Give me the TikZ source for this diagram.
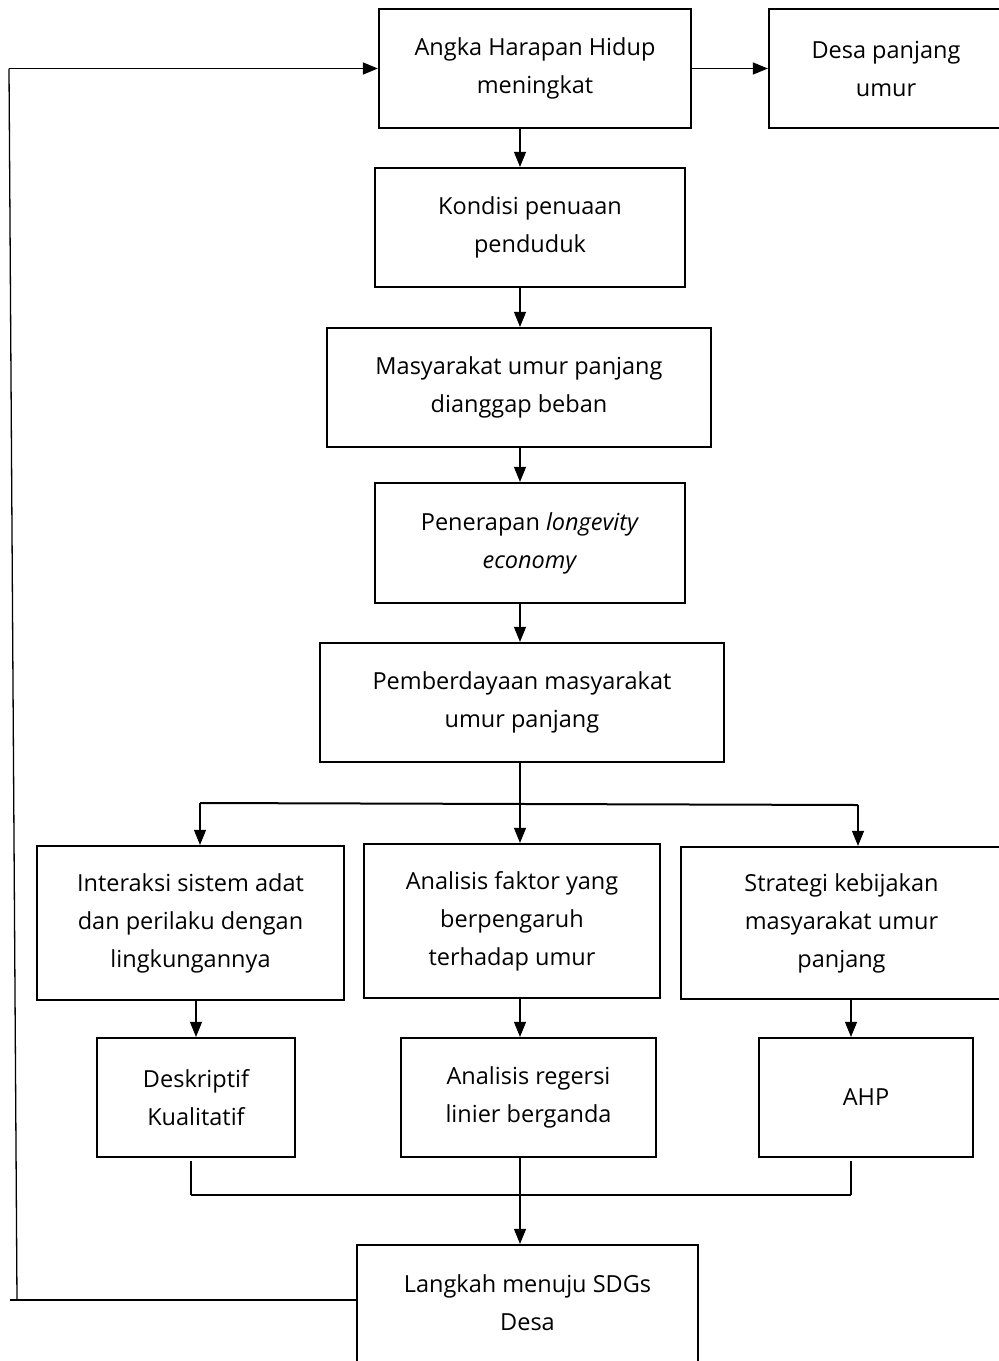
\documentclass[tikz,border=0pt]{standalone}
\usepackage{fontspec}
\setmainfont{Open Sans}
\usetikzlibrary{arrows.meta}

\begin{document}
\begin{tikzpicture}[x=1pt,y=-1pt,
  box/.style={draw, line width=2.2pt, align=center, inner sep=0pt,
    font=\fontsize{23.5}{38}\selectfont},
  arr/.style={line width=1.1pt, -{Triangle[length=15pt,width=12pt]}},
  bar/.style={line width=2pt}]
\clip (0,0) rectangle (999,1361);
\fill[white] (0,0) rectangle (999,1361);

\node[box, minimum width=312pt, minimum height=119pt] (hidup) at (535,68.5) {Angka Harapan Hidup\\meningkat};
\node[box, minimum width=234pt, minimum height=119pt] (desa) at (886,68.5) {Desa panjang\\umur};
\node[box, minimum width=310pt, minimum height=119pt] (penuaan) at (530,227.5) {Kondisi penuaan\\penduduk};
\node[box, minimum width=384pt, minimum height=119pt] (beban) at (519,387.5) {Masyarakat umur panjang\\dianggap beban};
\node[box, minimum width=310pt, minimum height=120pt] (longev) at (530,543) {Penerapan \textit{longevity}\\\textit{economy}};
\node[box, minimum width=404pt, minimum height=119pt] (berdaya) at (522,702.5) {Pemberdayaan masyarakat\\umur panjang};

\node[box, minimum width=307pt, minimum height=154pt] (adat) at (190.5,923) {Interaksi sistem adat\\dan perilaku dengan\\lingkungannya};
\node[box, minimum width=296pt, minimum height=154pt] (faktor) at (512,921) {Analisis faktor yang\\berpengaruh\\terhadap umur};
\node[box, minimum width=321pt, minimum height=152pt] (strategi) at (841.5,923) {Strategi kebijakan\\masyarakat umur\\panjang};

\node[box, minimum width=198pt, minimum height=119pt] (deskrip) at (196,1097.5) {Deskriptif\\Kualitatif};
\node[box, minimum width=255pt, minimum height=119pt] (regresi) at (528.5,1097.5) {Analisis regersi\\linier berganda};
\node[box, minimum width=214pt, minimum height=119pt] (ahp) at (866,1097.5) {AHP};

\node[box, minimum width=341pt, minimum height=124pt] (sdgs) at (527.5,1307) {Langkah menuju SDGs\\Desa\rule[-8pt]{0pt}{8pt}};

\coordinate (col) at (520,0);
\coordinate (brL) at (200,803);
\coordinate (brR) at (858,805);
\coordinate (jL) at (191,1195);
\coordinate (jR) at (851,1195);
\coordinate (lpB) at (17,1300);
\coordinate (lpT) at (9,68.5);

\draw[arr] (hidup.east) -- (desa.west);
\draw[arr] (hidup.south -| col) -- (penuaan.north -| col);
\draw[arr] (penuaan.south -| col) -- (beban.north -| col);
\draw[arr] (beban.south -| col) -- (longev.north -| col);
\draw[arr] (longev.south -| col) -- (berdaya.north -| col);
\draw[arr] (berdaya.south -| col) -- (faktor.north -| col);

\draw[bar] (brL) -- (brR);
\draw[arr] (brL) -- (adat.north -| brL);
\draw[arr] (brR) -- (strategi.north -| brR);

\draw[arr] (adat.south -| 196,0) -- (deskrip.north -| 196,0);
\draw[arr] (faktor.south -| col) -- (regresi.north -| col);
\draw[arr] (strategi.south -| jR) -- (ahp.north -| jR);

\draw[line width=1.1pt] ([yshift=-3pt]deskrip.south -| jL) -- (jL);
\draw[line width=1.1pt] ([yshift=-3pt]ahp.south -| jR) -- (jR);
\draw[bar] (jL) -- (jR);
\draw[arr] (regresi.south -| col) -- (sdgs.north -| col);

\draw[line width=1.3pt] (sdgs.west |- lpB) -- (10,1300);
\draw[line width=1.3pt] (lpB) -- (lpT);
\draw[arr, line width=1.3pt] (lpT) -- (hidup.west);
\end{tikzpicture}
\end{document}
